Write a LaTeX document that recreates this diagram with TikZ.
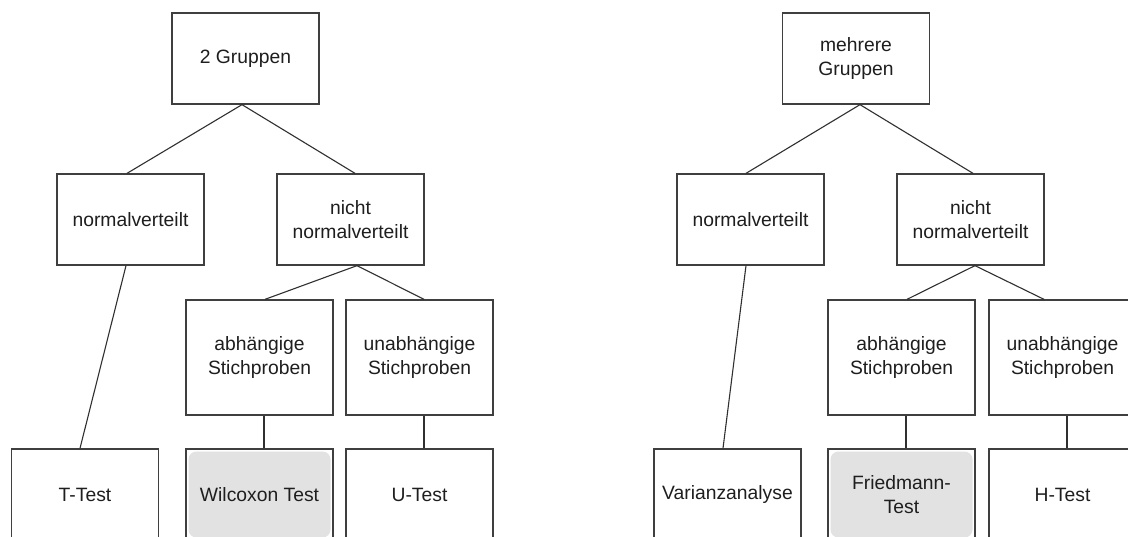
\documentclass[tikz,border=0pt]{standalone}
\usepackage{fontspec}
\setmainfont{Liberation Sans}
\definecolor{boxline}{HTML}{3F3F3F}
\definecolor{linec}{HTML}{303030}
\definecolor{txt}{HTML}{1E1E1E}
\definecolor{hlgray}{HTML}{E2E2E2}
\begin{document}
\begin{tikzpicture}[x=1pt,y=-1pt,
  box/.style={draw=boxline, line width=1.3pt, fill=white, minimum width=147pt, minimum height=91pt,
    align=center, font=\fontsize{19.3}{23.5}\selectfont, text=txt, inner sep=0pt},
  tallbox/.style={box, minimum height=115pt},
  hl/.style={path picture={\fill[hlgray, rounded corners=8pt]
      ([shift={(2.5pt,-2.5pt)}]path picture bounding box.north west) rectangle
      ([shift={(-2.5pt,2.5pt)}]path picture bounding box.south east);}},
  link/.style={draw=linec, line width=1.1pt}]
\useasboundingbox (0,0) rectangle (1128,537);
\clip (0,0) rectangle (1128,537);
\fill[white] (0,0) rectangle (1128,537);

% left tree
\node[box] (g2) at (245.5,58.5) {2 Gruppen};
\node[box] (n1) at (130.5,219.5) {normalverteilt};
\node[box] (nn1) at (350.5,219.5) {nicht\\normalverteilt};
\node[tallbox] (a1) at (259.5,357.5) {abhängige\\Stichproben};
\node[tallbox] (u1) at (419.5,357.5) {unabhängige\\Stichproben};
\node[box] (t) at (85,494.5) {T-Test};
\node[box,hl] (w) at (259.5,494.5) {Wilcoxon Test};
\node[box] (ut) at (419.5,494.5) {U-Test};

% right tree
\node[box] (mg) at (856,58.5) {mehrere\\Gruppen};
\node[box] (n2) at (750.5,219.5) {normalverteilt};
\node[box] (nn2) at (970.5,219.5) {nicht\\normalverteilt};
\node[tallbox] (a2) at (901.5,357.5) {abhängige\\Stichproben};
\node[tallbox] (u2) at (1062.5,357.5) {unabhängige\\Stichproben};
\node[box] (v) at (727.5,494.5) {Varianzanalyse};
\node[box,hl] (f) at (901.5,494.5) {Friedmann-\\Test};
\node[box] (h) at (1062.5,494.5) {H-Test};

% connectors left
\draw[link] ([xshift=-3.5pt]g2.south) -- ([xshift=-3.5pt]n1.north);
\draw[link] ([xshift=-3.5pt]g2.south) -- ([xshift=4.5pt]nn1.north);
\draw[link] ([xshift=-4.5pt]n1.south) -- ([xshift=-5pt]t.north);
\draw[link] ([xshift=6.5pt]nn1.south) -- ([xshift=5.5pt]a1.north);
\draw[link] ([xshift=6.5pt]nn1.south) -- ([xshift=4.5pt]u1.north);
\draw[link] ([xshift=4.5pt]a1.south) -- ([xshift=4.5pt]w.north);
\draw[link] ([xshift=4.5pt]u1.south) -- ([xshift=4.5pt]ut.north);

% connectors right
\draw[link] ([xshift=4pt]mg.south) -- ([xshift=-4.5pt]n2.north);
\draw[link] ([xshift=4pt]mg.south) -- ([xshift=2.5pt]nn2.north);
\draw[link] ([xshift=-4.5pt]n2.south) -- ([xshift=-4.5pt]v.north);
\draw[link] ([xshift=4.5pt]nn2.south) -- ([xshift=5.5pt]a2.north);
\draw[link] ([xshift=4.5pt]nn2.south) -- ([xshift=-18.5pt]u2.north);
\draw[link] ([xshift=4.5pt]a2.south) -- ([xshift=4.5pt]f.north);
\draw[link] ([xshift=4.5pt]u2.south) -- ([xshift=4.5pt]h.north);
\end{tikzpicture}
\end{document}
